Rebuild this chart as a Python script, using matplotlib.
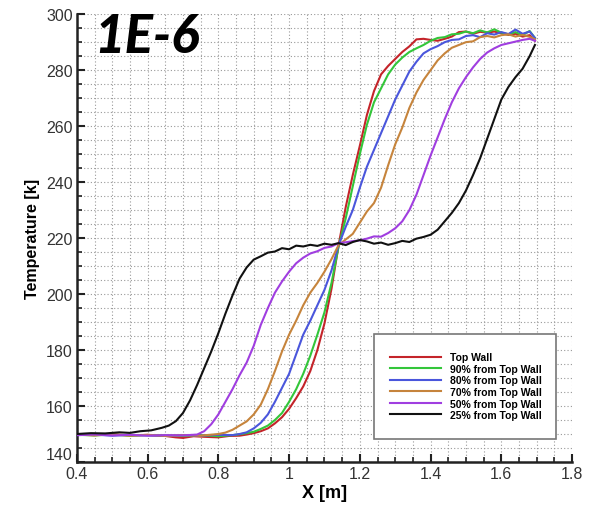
import matplotlib
matplotlib.use("Agg")
import matplotlib.pyplot as plt
from matplotlib.patches import Rectangle
from matplotlib.ticker import MultipleLocator

plt.rcParams['font.family'] = ['Liberation Sans', 'DejaVu Sans']

labels = ["Top Wall", "90% from Top Wall", "80% from Top Wall",
          "70% from Top Wall", "50% from Top Wall", "25% from Top Wall"]
colors = ["#c4242a", "#33c63a", "#4a56dc", "#c6843c", "#a03ee0", "#111111"]

# Top Wall
x_top = [0.40, 0.45, 0.50, 0.55, 0.60, 0.65, 0.68, 0.70, 0.73, 0.76, 0.80, 0.83, 0.86,
         0.88, 0.90, 0.92, 0.94, 0.96, 0.98, 1.00, 1.02, 1.04, 1.06, 1.08, 1.10, 1.12,
         1.14, 1.16, 1.18, 1.20, 1.22, 1.24, 1.26, 1.28, 1.30, 1.32, 1.34, 1.36, 1.38,
         1.40, 1.42, 1.44, 1.46, 1.48, 1.50, 1.52, 1.54, 1.56, 1.58, 1.60, 1.62, 1.64,
         1.66, 1.68, 1.695]
t_top = [149.8, 149.6, 149.9, 149.5, 149.7, 149.3, 148.8, 148.6, 149.2, 149.0, 148.8, 149.3, 149.4,
         149.8, 150.3, 151.0, 152.0, 153.8, 156.0, 159.0, 162.8, 167.0, 172.5, 180.0, 189.5, 202.0,
         217.5, 231.0, 242.5, 253.0, 264.0, 272.5, 278.5, 281.5, 284.0, 286.5, 288.5, 291.0, 291.2,
         290.8, 290.5, 291.2, 292.0, 293.6, 293.8, 293.0, 293.7, 293.4, 293.8, 293.2, 292.6, 293.0,
         292.0, 292.5, 290.5]

# 90% from Top Wall
x_90 = [0.40, 0.45, 0.50, 0.55, 0.60, 0.65, 0.70, 0.75, 0.80, 0.84, 0.86,
        0.88, 0.90, 0.92, 0.94, 0.96, 0.98, 1.00, 1.02, 1.04, 1.06, 1.08, 1.10, 1.12,
        1.14, 1.16, 1.18, 1.20, 1.22, 1.24, 1.26, 1.28, 1.30, 1.32, 1.34, 1.36, 1.38,
        1.40, 1.42, 1.44, 1.46, 1.48, 1.50, 1.52, 1.54, 1.56, 1.58, 1.60, 1.62, 1.64,
        1.66, 1.68, 1.695]
t_90 = [149.7, 149.5, 149.8, 149.4, 149.6, 149.5, 149.3, 149.6, 149.2, 149.6, 149.9,
        150.3, 150.8, 151.8, 153.0, 155.0, 157.5, 161.5, 166.0, 171.5, 178.0, 185.5, 193.5, 204.0,
        217.0, 227.0, 238.5, 250.0, 260.5, 268.5, 273.5, 278.5, 282.0, 284.5, 286.5, 287.8, 289.0,
        290.5, 291.5, 291.8, 292.8, 293.0, 293.8, 293.2, 294.2, 293.5, 294.6, 293.4, 292.8, 293.6,
        292.5, 294.0, 291.5]

# 80% from Top Wall
x_80 = [0.40, 0.45, 0.50, 0.55, 0.60, 0.65, 0.70, 0.75, 0.80, 0.84, 0.86,
        0.88, 0.90, 0.92, 0.94, 0.96, 0.98, 1.00, 1.02, 1.04, 1.06, 1.08, 1.10, 1.12,
        1.14, 1.16, 1.18, 1.20, 1.22, 1.24, 1.26, 1.28, 1.30, 1.32, 1.34, 1.36, 1.38,
        1.40, 1.42, 1.44, 1.46, 1.48, 1.50, 1.52, 1.54, 1.56, 1.58, 1.60, 1.62, 1.64,
        1.66, 1.68, 1.695]
t_80 = [149.6, 149.8, 149.4, 149.7, 149.5, 149.3, 149.6, 149.4, 149.7, 149.6, 150.0,
        150.6, 152.0, 154.0, 157.0, 161.5, 166.5, 171.5, 178.5, 185.5, 190.5, 196.0, 201.5, 208.5,
        217.5, 224.0, 230.0, 238.0, 245.5, 251.5, 257.5, 263.5, 269.5, 274.5, 279.5, 283.0, 286.0,
        287.5, 288.6, 290.0, 290.8, 291.0, 292.2, 292.5, 291.8, 293.2, 292.7, 293.6, 292.9, 294.5,
        293.0, 293.8, 291.5]

# 70% from Top Wall
x_70 = [0.40, 0.45, 0.50, 0.55, 0.60, 0.65, 0.70, 0.75, 0.80, 0.82, 0.84, 0.86,
        0.88, 0.90, 0.92, 0.94, 0.96, 0.98, 1.00, 1.02, 1.04, 1.06, 1.08, 1.10, 1.12,
        1.14, 1.16, 1.18, 1.20, 1.22, 1.24, 1.26, 1.28, 1.30, 1.32, 1.34, 1.36, 1.38,
        1.40, 1.42, 1.44, 1.46, 1.48, 1.50, 1.52, 1.54, 1.56, 1.58, 1.60, 1.62, 1.64,
        1.66, 1.68, 1.695]
t_70 = [149.8, 149.5, 149.9, 149.4, 149.7, 149.3, 149.6, 149.4, 150.0, 150.5, 151.5, 153.0,
        154.5, 157.0, 160.5, 166.0, 172.5, 179.5, 185.5, 190.5, 196.0, 200.5, 204.0, 208.0, 212.5,
        217.5, 219.5, 221.5, 225.5, 229.5, 232.5, 238.0, 246.0, 253.5, 259.5, 266.5, 272.0, 276.5,
        280.0, 283.5, 286.0, 288.0, 289.0, 290.0, 290.3, 291.8, 292.2, 291.7, 292.5, 292.8, 292.0,
        292.6, 291.9, 291.0]

# 50% from Top Wall
x_50 = [0.40, 0.45, 0.50, 0.55, 0.60, 0.65, 0.70, 0.74, 0.76, 0.78, 0.80, 0.82, 0.84,
        0.86, 0.88, 0.90, 0.92, 0.94, 0.96, 0.98, 1.00, 1.02, 1.04, 1.06, 1.08, 1.10,
        1.12, 1.14, 1.16, 1.18, 1.20, 1.22, 1.24, 1.26, 1.28, 1.30, 1.32, 1.34, 1.36,
        1.38, 1.40, 1.42, 1.44, 1.46, 1.48, 1.50, 1.52, 1.54, 1.56, 1.58, 1.60, 1.62,
        1.64, 1.66, 1.68, 1.695]
t_50 = [149.6, 149.8, 149.5, 149.7, 149.4, 149.6, 149.5, 149.8, 151.0, 153.5, 157.0, 161.5, 166.0,
        171.0, 175.5, 181.5, 189.0, 195.0, 200.5, 204.5, 208.0, 211.0, 213.0, 214.5, 215.3, 216.5,
        217.0, 218.2, 218.5, 218.9, 219.2, 219.8, 220.6, 220.5, 221.8, 223.5, 226.0, 230.0, 235.5,
        242.5, 249.5, 256.0, 262.5, 268.5, 273.5, 277.5, 281.0, 284.0, 286.3, 287.8, 289.0, 289.6,
        290.2, 290.8, 291.2, 290.5]

# 25% from Top Wall
x_25 = [0.40, 0.44, 0.48, 0.52, 0.55, 0.58, 0.61, 0.64, 0.66, 0.68, 0.70, 0.72, 0.74,
        0.76, 0.78, 0.80, 0.82, 0.84, 0.86, 0.88, 0.90, 0.92, 0.94, 0.96, 0.98, 1.00,
        1.02, 1.04, 1.06, 1.08, 1.10, 1.12, 1.14, 1.16, 1.18, 1.20, 1.22, 1.24, 1.26,
        1.28, 1.30, 1.32, 1.34, 1.36, 1.38, 1.40, 1.42, 1.44, 1.46, 1.48, 1.50, 1.52,
        1.54, 1.56, 1.58, 1.60, 1.62, 1.64, 1.66, 1.68, 1.695]
t_25 = [150.0, 150.3, 150.2, 150.6, 150.4, 151.0, 151.3, 152.2, 153.0, 154.6, 157.5, 162.0, 167.5,
        173.5, 179.5, 186.0, 193.0, 199.5, 205.5, 209.5, 212.3, 213.5, 214.8, 215.2, 216.4, 216.0,
        217.3, 217.0, 217.6, 217.2, 218.0, 217.6, 218.2, 217.5, 218.6, 219.3, 218.8, 218.0, 218.4,
        217.6, 218.2, 219.0, 218.6, 219.8, 220.4, 221.2, 223.0, 226.0, 229.0, 232.5, 237.0, 242.5,
        248.5, 255.5, 262.5, 269.5, 274.0, 277.5, 280.5, 285.0, 289.0]

series_x = [x_top, x_90, x_80, x_70, x_50, x_25]
series_t = [t_top, t_90, t_80, t_70, t_50, t_25]

fig = plt.figure(figsize=(5.91, 5.06), dpi=100)
ax = fig.add_axes([0.130, 0.085, 0.838, 0.885])

for xs, ts, c, lab in zip(series_x, series_t, colors, labels):
    ax.plot(xs, ts, color=c, lw=1.5, label=lab, zorder=3)

ax.set_xlim(0.4, 1.8)
ax.set_ylim(140, 300)
ax.xaxis.set_major_locator(MultipleLocator(0.2))
ax.xaxis.set_minor_locator(MultipleLocator(0.05))
ax.yaxis.set_major_locator(MultipleLocator(20))
ax.yaxis.set_minor_locator(MultipleLocator(5))
ax.set_xticks([0.4, 0.6, 0.8, 1.0, 1.2, 1.4, 1.6, 1.8])
ax.set_xticklabels(["0.4", "0.6", "0.8", "1", "1.2", "1.4", "1.6", "1.8"])
ax.set_yticks([140, 160, 180, 200, 220, 240, 260, 280, 300])

ax.grid(True, which='both', color='#999999', linestyle=(0, (1, 2)), lw=0.8, zorder=0)
ax.set_axisbelow(True)

for s in ['top', 'right']:
    ax.spines[s].set_visible(False)
for s in ['left', 'bottom']:
    ax.spines[s].set_linewidth(1.8)
    ax.spines[s].set_color('#222222')

ax.tick_params(which='major', direction='in', length=6, width=1.5, labelsize=11.5,
               colors='#222222', labelcolor='#333333', pad=3)
ax.tick_params(which='minor', direction='in', length=3.5, width=1.2, colors='#222222')

# the lowest y label sits raised above the axis corner, as in the reference
yt = ax.yaxis.get_major_ticks()
yt[0].label1.set_verticalalignment('bottom')

ax.set_xlabel("X [m]", fontsize=13, fontweight='bold', labelpad=2)
ax.set_ylabel("Temperature [k]", fontsize=11.5, fontweight='bold', labelpad=4)

ax.text(0.036, 0.915, "1E-6", transform=ax.transAxes, fontsize=38,
        family=['Lato', 'DejaVu Sans'], fontweight='black', style='italic',
        ha='left', va='baseline', zorder=5)

box = Rectangle((0.600, 0.051), 0.368, 0.235, transform=ax.transAxes,
                facecolor='white', edgecolor='#777777', lw=1.2, zorder=4)
ax.add_patch(box)
leg = ax.legend(loc='upper left', bbox_to_anchor=(0.632, 0.245), frameon=False,
                borderpad=0, borderaxespad=0, handlelength=4.9, handletextpad=0.9,
                labelspacing=0.15, prop={'size': 7.5, 'weight': 'bold'})
leg.set_zorder(6)

fig.savefig("out.png", dpi=100)
